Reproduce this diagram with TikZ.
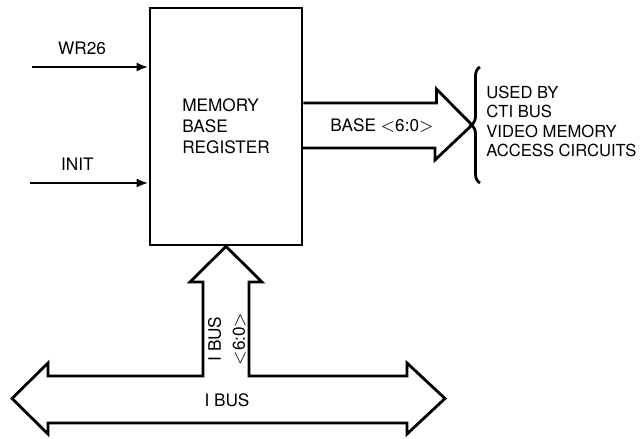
\documentclass[tikz,border=0pt]{standalone}
\usepackage{fontspec}
\setmainfont{TeX Gyre Heros}
\usepackage{tikz}
\usetikzlibrary{arrows.meta,decorations.pathreplacing}

\begin{document}
\begin{tikzpicture}[x=0.5pt,y=-0.5pt,line width=1.4pt,
    font=\fontsize{8.6}{10.4}\selectfont,
    bus/.style={line width=1.4pt,line join=miter},
    sig/.style={-{Latex[length=6pt,width=4.5pt]}}]
    \useasboundingbox (0,0) rectangle (643,439);
    \node[draw,minimum width=76pt,minimum height=118.5pt,align=left] (mbr) at (226,126.5)
        {MEMORY\\BASE\\REGISTER};
    \coordinate (wr) at (32,67);
    \coordinate (init) at (30,183);
    \draw[sig] (wr) -- (mbr.west |- wr) node[pos=.43,above=2pt]{WR26};
    \draw[sig] (init) -- (mbr.west |- init) node[pos=.4,above=2pt]{INIT};
    \coordinate (tip) at (472,125);
    \draw[bus] (mbr.east) ++(0,-23.5) -- ++(133,0) -- ++(0,-14) -- (tip)
        -- ++(-37,35) -- ++(0,-12) -- ++(-133,0);
    \node (base) at (382,125.5) {BASE $<$6:0$>$};
    \draw[decorate,decoration={brace,amplitude=4.5pt}] (480,183) -- (480,67);
    \node[anchor=west,align=left,inner xsep=0pt,font=\fontsize{8.3}{9.6}\selectfont]
        (used) at (485,121.5) {USED BY\\CTI BUS\\VIDEO MEMORY\\ACCESS CIRCUITS};
    \draw[bus] (mbr.south) -- (262,282) -- (249,282) -- (249,376) -- (407,376)
        -- (407,363) -- (445,398.5) -- (407,434) -- (407,423) -- (48,423)
        -- (48,434) -- (12,398.5) -- (48,363) -- (48,376) -- (203,376)
        -- (203,282) -- (190,282) -- cycle;
    \node (ibus) at (227,400) {I BUS};
    \node[rotate=90,align=center,font=\fontsize{8.6}{12}\selectfont] (ibus6) at (227,339)
        {I BUS\\$<$6:0$>$};
\end{tikzpicture}
\end{document}
